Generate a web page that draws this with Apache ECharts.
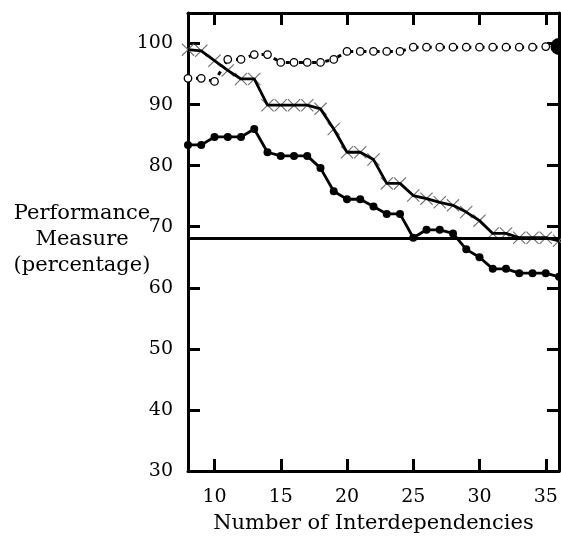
<!DOCTYPE html>
<html><head><meta charset="utf-8">
<script src="https://cdn.jsdelivr.net/npm/echarts@6/dist/echarts.min.js"></script>
<style>html,body{margin:0;padding:0;background:#fff}#c{width:561px;height:540px}</style>
</head><body><div id="c"></div>
<script>
const xValues = [8,9,10,11,12,13,14,15,16,17,18,19,20,21,22,23,24,25,26,27,28,29,30,31,32,33,34,35,36];
const crossValues = [99.0,98.8,97.2,95.6,94.2,94.2,89.9,89.9,89.9,89.9,89.3,86.0,82.2,82.2,81.0,77.1,77.1,75.1,74.6,74.0,73.5,72.4,71.0,68.9,68.9,68.2,68.2,68.2,67.7];
const dotValues = [83.4,83.4,84.7,84.7,84.7,86.0,82.2,81.6,81.6,81.6,79.6,75.8,74.5,74.5,73.3,72.1,72.1,68.2,69.5,69.5,68.9,66.3,65.0,63.1,63.1,62.4,62.4,62.4,61.8];
const circleValues = [94.3,94.3,93.8,97.4,97.4,98.2,98.2,96.9,96.9,96.9,96.9,97.4,98.7,98.7,98.7,98.7,98.7,99.4,99.4,99.4,99.4,99.4,99.4,99.4,99.4,99.4,99.4,99.5];
const baselineValue = 68.1;
const xTicks = [10,15,20,25,30,35];
const yTicks = [30,40,50,60,70,80,90,100];
const xName = 'Number of Interdependencies';
const yName = 'Performance\nMeasure\n(percentage)';

const font = 'DejaVu Serif';
const pair = vals => vals.map((v,i)=>[xValues[i], v]);
const crossPath = 'path://M0,0.6L0.6,0L5,4.4L9.4,0L10,0.6L5.6,5L10,9.4L9.4,10L5,5.6L0.6,10L0,9.4L4.4,5Z';

const chart = echarts.init(document.getElementById('c'));
chart.setOption({
  animation:false,
  grid:{left:188,right:2,top:13,bottom:69,containLabel:false,outerBoundsMode:'none'},
  graphic:[{
    type:'text',x:82,y:240,silent:true,
    style:{text:yName,fontFamily:font,fontSize:21,fill:'#000',align:'center',verticalAlign:'middle',lineHeight:26}
  }],
  xAxis:[{
    type:'value',min:8,max:36,
    name:xName,nameLocation:'middle',nameGap:42,
    nameTextStyle:{fontFamily:font,fontSize:21,color:'#000'},
    axisLine:{show:true,lineStyle:{color:'#000',width:3}},
    axisTick:{show:true,inside:true,length:12,lineStyle:{color:'#000',width:3},customValues:xTicks},
    axisLabel:{fontFamily:font,fontSize:19,color:'#000',margin:17,customValues:xTicks},
    splitLine:{show:false}
  },{
    type:'value',min:8,max:36,position:'top',
    axisLine:{show:true,lineStyle:{color:'#000',width:3}},
    axisTick:{show:true,inside:true,length:12,lineStyle:{color:'#000',width:3},customValues:xTicks},
    axisLabel:{show:false},splitLine:{show:false}
  }],
  yAxis:[{
    type:'value',min:30,max:105,
    axisLine:{show:true,lineStyle:{color:'#000',width:3}},
    axisTick:{show:true,inside:true,length:12,lineStyle:{color:'#000',width:3},customValues:yTicks},
    axisLabel:{fontFamily:font,fontSize:19,color:'#000',margin:15,customValues:yTicks},
    splitLine:{show:false}
  },{
    type:'value',min:30,max:105,position:'right',
    axisLine:{show:true,lineStyle:{color:'#000',width:3}},
    axisTick:{show:true,inside:true,length:12,lineStyle:{color:'#000',width:3},customValues:yTicks},
    axisLabel:{show:false},splitLine:{show:false}
  }],
  series:[
    {
      type:'line',data:pair(circleValues),clip:false,
      symbol:'circle',
      symbolSize:7.5,
      itemStyle:{color:'#fff',borderColor:'#000',borderWidth:1.3},
      lineStyle:{color:'#000',width:3,type:[4,9.2],dashOffset:-8},
      z:3
    },
    {
      type:'line',data:[[36,circleValues[circleValues.length-1]]],clip:false,
      symbol:'circle',symbolSize:17,itemStyle:{color:'#000'},lineStyle:{width:0},z:4
    },
    {
      type:'line',data:pair(crossValues),clip:false,
      symbol:crossPath,symbolSize:13,
      itemStyle:{color:'#707070'},
      lineStyle:{width:0},
      z:1
    },
    {
      type:'line',data:pair(crossValues),clip:false,
      showSymbol:false,symbol:'none',
      lineStyle:{color:'#000',width:2.8},
      z:2
    },
    {
      type:'line',data:pair(dotValues),clip:false,
      symbol:'circle',symbolSize:8,
      itemStyle:{color:'#000'},
      lineStyle:{color:'#000',width:2.8},
      markLine:{silent:true,symbol:'none',label:{show:false},
        lineStyle:{color:'#000',width:3,type:'solid'},
        data:[{yAxis:baselineValue}]},
      z:2
    }
  ]
});
</script></body></html>
